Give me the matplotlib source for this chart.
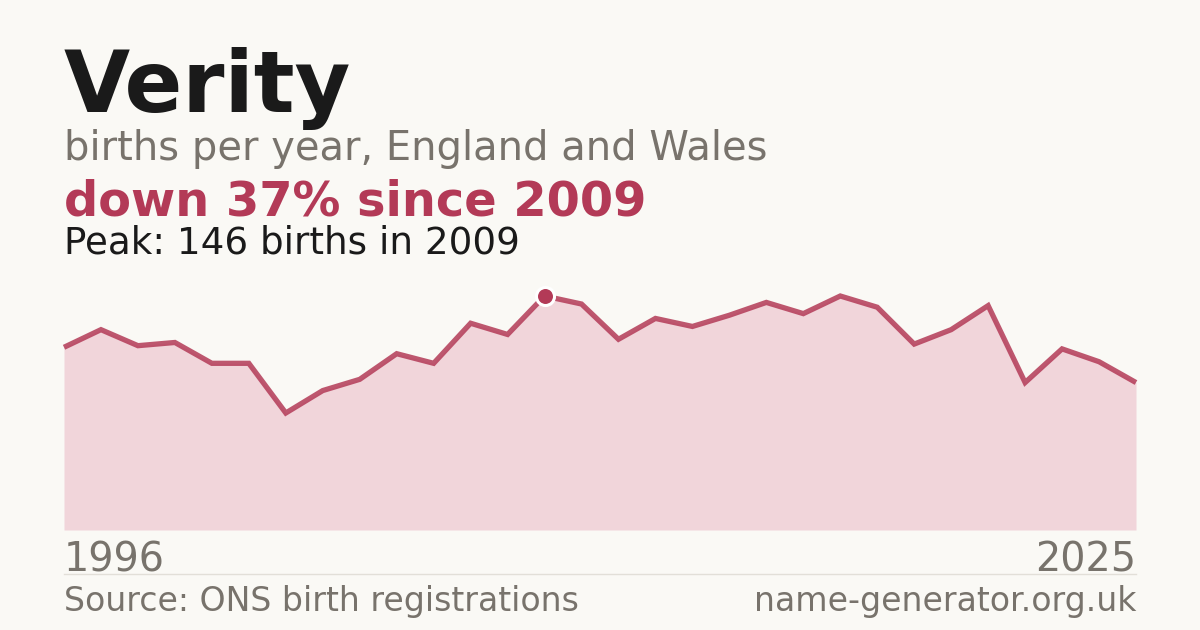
import numpy as np
import matplotlib
matplotlib.use("Agg")
import matplotlib.pyplot as plt

# Datos (nacimientos por año)
years = np.arange(1996, 2026)
births = [114, 125, 115, 117, 104, 104, 73, 87, 94, 110,
          104, 129, 122, 146, 141, 119, 132, 127, 134, 142,
          135, 146, 139, 116, 125, 140, 92, 113, 105, 92]

name = "Verity"
subtitle = "births per year, England and Wales"
change_text = "down 37% since 2009"
peak_text = "Peak: 146 births in 2009"
source_text = "Source: ONS birth registrations"
site_text = "name-generator.org.uk"

BG = "#faf9f5"
RED = "#b33a57"
GREY = "#78736c"
DARK = "#1a1a1a"
FILL = "#f1d5da"

W, H = 1200, 630
fig = plt.figure(figsize=(12, 6.3), dpi=100, facecolor=BG)


def fy(py):
    # pixel (desde arriba) -> fracción de figura
    return 1 - py / H


left, right = 64 / W, 1136 / W
fig.text(left, fy(112), name, fontsize=61.6, fontweight="bold", color=DARK, va="baseline")
fig.text(left, fy(160), subtitle, fontsize=28.8, color=GREY, va="baseline")
fig.text(left, fy(215), change_text, fontsize=34.5, fontweight="bold", color=RED, va="baseline")
fig.text(left, fy(254), peak_text, fontsize=26.8, color=DARK, va="baseline")

# Área del gráfico: base en y=530, pico (146) en y=296
ax = fig.add_axes([left, fy(530), right - left, (530 - 296) / H])
ax.set_facecolor("none")
ax.fill_between(years, births, 0, color=FILL, lw=0)
ax.plot(years, births, color=RED, lw=3.8, alpha=0.85, solid_joinstyle="miter",
        solid_capstyle="butt", clip_on=False)
ipk = int(np.argmax(births))
ax.plot(years[ipk], births[ipk], "o", ms=13, color=RED, mec="white", mew=2.2,
        clip_on=False, zorder=5)
ax.set_xlim(years[0], years[-1])
ax.set_ylim(0, max(births))
ax.axis("off")

fig.text(left, fy(571), str(years[0]), fontsize=28.6, color=GREY, va="baseline")
fig.text(right, fy(571), str(years[-1]), fontsize=28.6, color=GREY, va="baseline", ha="right")
fig.add_artist(plt.Line2D([left, right], [fy(574), fy(574)], color="#e2dfd8", lw=1))
fig.text(left, fy(611), source_text, fontsize=23.9, color=GREY, va="baseline")
fig.text(right, fy(611), site_text, fontsize=23.9, color=GREY, va="baseline", ha="right")

fig.savefig("out.png", dpi=100, facecolor=BG)
